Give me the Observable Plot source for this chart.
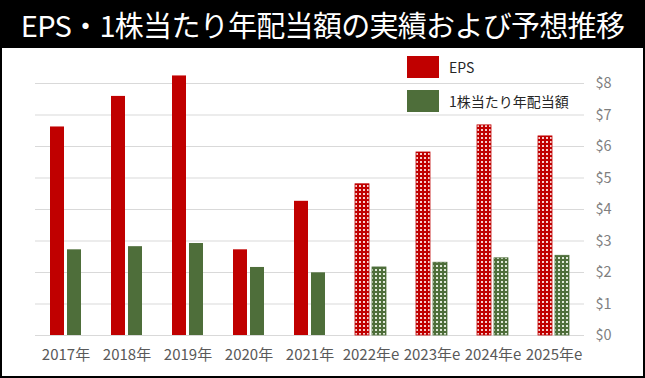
<!DOCTYPE html>
<html>
<head>
<meta charset="utf-8">
<script src="https://cdn.jsdelivr.net/npm/d3@7"></script>
<script src="https://cdn.jsdelivr.net/npm/@observablehq/plot@0.6"></script>
<style>
  html, body { margin: 0; padding: 0; background: #fff; }
  #wrap { position: relative; width: 645px; height: 378px; background: #000; overflow: hidden;
          font-family: "Noto Sans CJK JP", "Noto Sans", sans-serif; }
  #title { position: absolute; left: 0; top: 0; width: 645px; height: 48px; line-height: 48px;
           color: #fff; font-size: 29px; text-align: center; letter-spacing: -0.7px; white-space: nowrap; }
  #panel { position: absolute; left: 2px; top: 48px; width: 641px; height: 328px; background: #fff; }
  #chart { position: absolute; left: 0; top: 0; }
  #legend { position: absolute; left: 405px; top: 8px; font-size: 14px; color: #262626; }
  .li { position: absolute; left: 0; white-space: nowrap; height: 23px; }
  .sw { position: absolute; left: 0; top: 0; width: 32px; height: 22px; }
  .lt { position: absolute; left: 42px; top: 0; line-height: 22px; }
  svg [aria-label^="y-axis"] text { fill: #7f7f7f; font-size: 14.5px; }
  svg [aria-label^="fx-axis"] text { fill: #595959; font-size: 15px; }
</style>
</head>
<body>
<div id="wrap">
  <div id="title"></div>
  <div id="panel">
    <div id="chart"></div>
    <div id="legend"></div>
  </div>
</div>
<script>
const titleText = "EPS・1株当たり年配当額の実績および予想推移";
const years = ["2017年","2018年","2019年","2020年","2021年","2022年e","2023年e","2024年e","2025年e"];
const forecast = [false,false,false,false,false,true,true,true,true];
const seriesNames = ["EPS","1株当たり年配当額"];
const eps = [6.62, 7.59, 8.24, 2.72, 4.26, 4.80, 5.81, 6.67, 6.32];
const dps = [2.72, 2.82, 2.92, 2.16, 1.99, 2.16, 2.31, 2.45, 2.53];
const yTicks = [0,1,2,3,4,5,6,7,8];
const colors = ["#c00000", "#4e6e3a"];

document.getElementById("title").textContent = titleText;

const rows = [];
years.forEach((y, i) => {
  rows.push({year: y, series: seriesNames[0], value: eps[i], forecast: forecast[i]});
  rows.push({year: y, series: seriesNames[1], value: dps[i], forecast: forecast[i]});
});

const chart = Plot.plot({
  width: 641,
  height: 328,
  marginLeft: 30,
  marginRight: 57,
  marginTop: 3.5,
  marginBottom: 41,
  style: {fontFamily: '"Noto Sans CJK JP", sans-serif', fontSize: "14px", background: "transparent"},
  facet: {data: rows, x: "year"},
  fx: {domain: years, label: null, padding: 0, paddingInner: 0, paddingOuter: 0, tickSize: 0, tickPadding: 14},
  x: {domain: seriesNames, axis: null, paddingInner: 1/6, paddingOuter: 0.794},
  y: {domain: [0, 9], axis: "right", ticks: yTicks, tickFormat: d => "$" + d, tickSize: 0, tickPadding: 11, label: null, grid: false},
  marks: [
    Plot.ruleY(yTicks, {stroke: "#d9d9d9", strokeWidth: 1.2}),
    Plot.barY(rows, {filter: d => !d.forecast && d.series === seriesNames[0], x: "series", y: "value", fill: colors[0]}),
    Plot.barY(rows, {filter: d => !d.forecast && d.series === seriesNames[1], x: "series", y: "value", fill: colors[1]}),
    Plot.barY(rows, {filter: d => d.forecast && d.series === seriesNames[0], x: "series", y: "value", fill: "url(#patR)", stroke: colors[0], strokeWidth: 0.8}),
    Plot.barY(rows, {filter: d => d.forecast && d.series === seriesNames[1], x: "series", y: "value", fill: "url(#patG)", stroke: colors[1], strokeWidth: 0.8})
  ]
});

// patterns for forecast bars
const ns = "http://www.w3.org/2000/svg";
const defs = document.createElementNS(ns, "defs");
[["patR", colors[0], "#f6d0d0"], ["patG", colors[1], "#dfe8d8"]].forEach(([id, c, dot]) => {
  const p = document.createElementNS(ns, "pattern");
  p.setAttribute("id", id);
  p.setAttribute("patternUnits", "userSpaceOnUse");
  p.setAttribute("width", 4);
  p.setAttribute("height", 4);
  const r = document.createElementNS(ns, "rect");
  r.setAttribute("width", 4); r.setAttribute("height", 4); r.setAttribute("fill", c);
  const w = document.createElementNS(ns, "rect");
  w.setAttribute("x", 1); w.setAttribute("y", 1);
  w.setAttribute("width", 2); w.setAttribute("height", 2); w.setAttribute("fill", dot);
  p.appendChild(r); p.appendChild(w);
  defs.appendChild(p);
});
chart.insertBefore(defs, chart.firstChild);
document.getElementById("chart").appendChild(chart);

// legend
const legend = document.getElementById("legend");
seriesNames.forEach((name, i) => {
  const li = document.createElement("div");
  li.className = "li";
  li.style.top = (i * 34) + "px";
  const sw = document.createElement("div");
  sw.className = "sw"; sw.style.background = colors[i];
  const t = document.createElement("div");
  t.className = "lt"; t.textContent = name;
  li.appendChild(sw); li.appendChild(t);
  legend.appendChild(li);
});
</script>
</body>
</html>
